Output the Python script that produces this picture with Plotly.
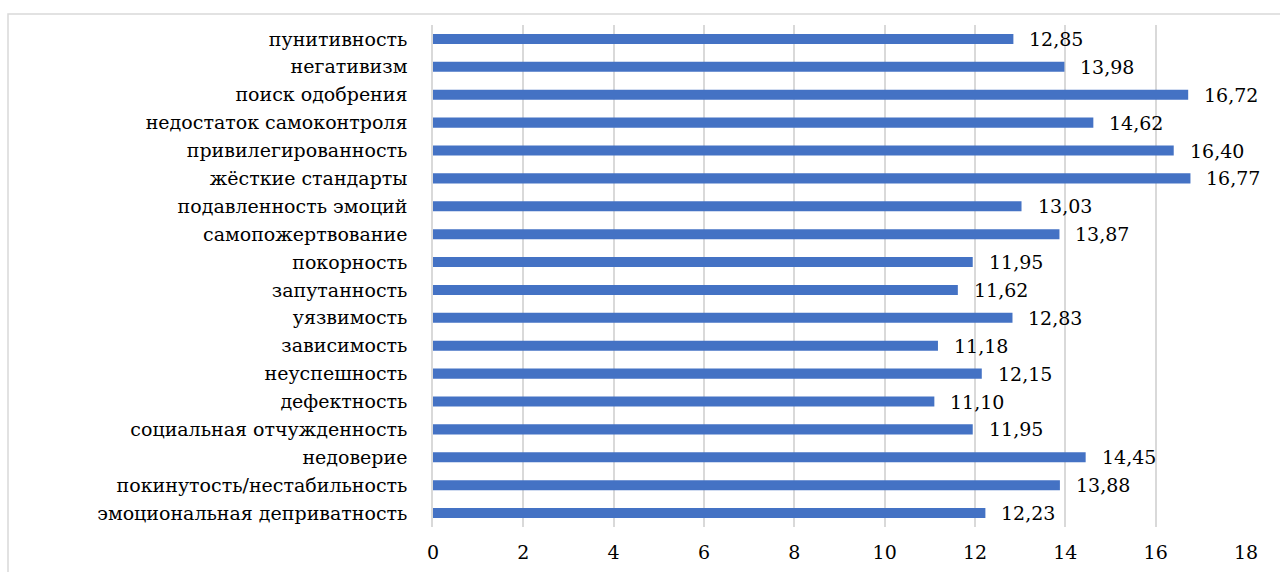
import plotly.graph_objects as go

# Schema scales, listed bottom to top
categories = [
    "эмоциональная деприватность",
    "покинутость/нестабильность",
    "недоверие",
    "социальная отчужденность",
    "дефектность",
    "неуспешность",
    "зависимость",
    "уязвимость",
    "запутанность",
    "покорность",
    "самопожертвование",
    "подавленность эмоций",
    "жёсткие стандарты",
    "привилегированность",
    "недостаток самоконтроля",
    "поиск одобрения",
    "негативизм",
    "пунитивность",
]
values = [12.23, 13.88, 14.45, 11.95, 11.10, 12.15, 11.18, 12.83, 11.62,
          11.95, 13.87, 13.03, 16.77, 16.40, 14.62, 16.72, 13.98, 12.85]
x_ticks = [0, 2, 4, 6, 8, 10, 12, 14, 16, 18]

FONT = "DejaVu Serif"
BAR = "#4472C4"
GRID = "#D9D9D9"

fig = go.Figure(
    go.Bar(
        x=values,
        y=categories,
        orientation="h",
        marker=dict(color=BAR, line=dict(width=0)),
        hoverinfo="x+y",
    )
)

# value labels to the right of each bar
for c, v in zip(categories, values):
    fig.add_annotation(
        x=v, y=c, xref="x", yref="y",
        text=f"{v:.2f}".replace(".", ","),
        showarrow=False, xanchor="left", yanchor="middle",
        xshift=14, font=dict(family=FONT, size=19, color="#000000"),
    )

L, R, T, B = 433, 34, 25, 45
W, H = 1280, 572
pw, ph = W - L - R, H - T - B

# outer chart frame
fig.add_shape(
    type="rect", xref="paper", yref="paper",
    x0=(8 - L) / pw, x1=1 + (R + 20) / pw,
    y0=-(B + 20) / ph, y1=1 + (T - 14) / ph,
    line=dict(color=GRID, width=1.5), fillcolor="rgba(0,0,0,0)", layer="below",
)

fig.update_layout(
    width=W, height=H,
    margin=dict(l=L, r=R, t=T, b=B, autoexpand=False),
    paper_bgcolor="white", plot_bgcolor="white",
    bargap=0.64,
    showlegend=False,
    separators=", ",
    font=dict(family=FONT, size=19, color="#000000"),
    xaxis=dict(
        range=[0, 18], tickvals=x_ticks,
        showgrid=True, gridcolor=GRID, gridwidth=1.5,
        zeroline=False, showline=False, ticks="",
        ticklabelstandoff=12, automargin=False,
        tickfont=dict(family=FONT, size=19, color="#000000"),
        fixedrange=True,
    ),
    yaxis=dict(
        categoryorder="array", categoryarray=categories,
        showgrid=False, zeroline=False,
        showline=True, linecolor=GRID, linewidth=1.5,
        ticks="", ticklabelstandoff=20, automargin=False,
        tickfont=dict(family=FONT, size=19, color="#000000"),
        fixedrange=True,
    ),
)

fig.write_html("out.html")
